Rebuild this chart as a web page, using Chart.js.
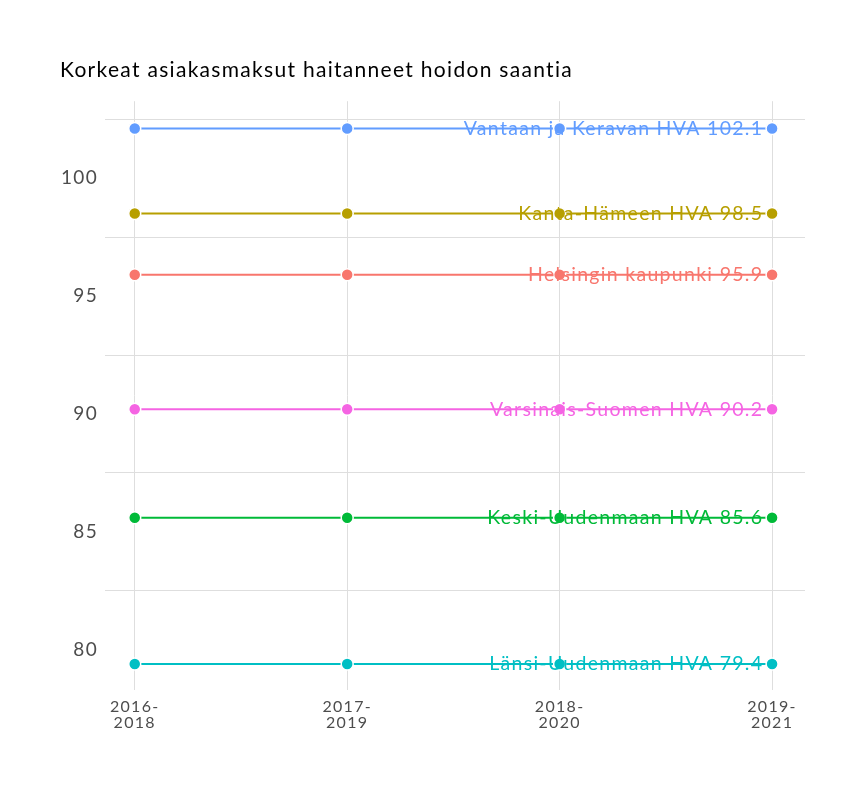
<!DOCTYPE html>
<html>
<head>
<meta charset="utf-8">
<script src="https://cdn.jsdelivr.net/npm/chart.js@4/dist/chart.umd.min.js"></script>
<style>
    html, body { margin: 0; padding: 0; background: #fff; }
    canvas { display: block; }
</style>
</head>
<body>
<canvas id="chart" width="864" height="792"></canvas>
<script>
// aikajaksot (x-akseli)
const periods = ['2016-2018', '2017-2019', '2018-2020', '2019-2021'];

// alueet ja arvot
const areaNames = [
    'Vantaan ja Keravan HVA',
    'Kanta-Hämeen HVA',
    'Helsingin kaupunki',
    'Varsinais-Suomen HVA',
    'Keski-Uudenmaan HVA',
    'Länsi-Uudenmaan HVA'
];
const vantaaValues = [102.1, 102.1, 102.1, 102.1];
const kantaHameValues = [98.5, 98.5, 98.5, 98.5];
const helsinkiValues = [95.9, 95.9, 95.9, 95.9];
const varsinaisSuomiValues = [90.2, 90.2, 90.2, 90.2];
const keskiUusimaaValues = [85.6, 85.6, 85.6, 85.6];
const lansiUusimaaValues = [79.4, 79.4, 79.4, 79.4];

// y-akselin merkinnät ja apuviivat
const yTickLabels = [80, 85, 90, 95, 100];
const yGridLines = [82.5, 87.5, 92.5, 97.5, 102.5];

const TITLE_TEXT = 'Korkeat asiakasmaksut haitanneet hoidon saantia';
const FONT = 'Lato, "DejaVu Sans", sans-serif';
const GRID_COLOR = '#dedede';
const LETTER_SPACING = '1.3px';

const seriesValues = [vantaaValues, kantaHameValues, helsinkiValues,
    varsinaisSuomiValues, keskiUusimaaValues, lansiUusimaaValues];
const seriesColors = ['#619CFF', '#B79F00', '#F8766D', '#F564E3', '#00BA38', '#00BFC4'];

const datasets = areaNames.map((name, i) => ({
    label: name,
    data: seriesValues[i].map((v, j) => ({ x: j, y: v })),
    borderColor: seriesColors[i],
    backgroundColor: seriesColors[i],
    borderWidth: 2,
    pointRadius: 6,
    pointBorderColor: '#ffffff',
    pointBorderWidth: 1.5,
    pointHoverRadius: 6,
    tension: 0
}));

// harvempi kirjainväli kuten alkuperäisessä
const spacing = {
    id: 'spacing',
    beforeLayout(chart) { chart.ctx.letterSpacing = LETTER_SPACING; },
    beforeDraw(chart) { chart.ctx.letterSpacing = LETTER_SPACING; }
};

// tekstit viivojen oikeaan päähän
const endLabels = {
    id: 'endLabels',
    afterDatasetsDraw(chart) {
        const ctx = chart.ctx;
        const xs = chart.scales.x;
        const ys = chart.scales.y;
        ctx.save();
        ctx.font = '19.5px ' + FONT;
        ctx.textAlign = 'right';
        ctx.textBaseline = 'middle';
        areaNames.forEach((name, i) => {
            const vals = seriesValues[i];
            const last = vals[vals.length - 1];
            ctx.fillStyle = seriesColors[i];
            ctx.fillText(name + ' ' + last.toFixed(1),
                xs.getPixelForValue(vals.length - 1) - 8.7,
                ys.getPixelForValue(last));
        });
        ctx.restore();
    }
};

new Chart(document.getElementById('chart').getContext('2d'), {
    type: 'line',
    data: { datasets: datasets },
    plugins: [spacing, endLabels],
    options: {
        responsive: false,
        animation: false,
        layout: { padding: { left: 60, right: 59, top: 58, bottom: 52 } },
        plugins: {
            legend: { display: false },
            tooltip: { enabled: false },
            title: {
                display: true,
                text: TITLE_TEXT,
                align: 'start',
                color: '#000',
                font: { family: FONT, size: 21, weight: 'normal' },
                padding: { top: 0, bottom: 18 }
            }
        },
        scales: {
            x: {
                type: 'linear',
                min: -0.14,
                max: 3.155,
                afterBuildTicks: s => { s.ticks = periods.map((p, i) => ({ value: i })); },
                afterFit: s => { s.height = 50; },
                border: { display: false },
                grid: { color: GRID_COLOR, drawTicks: false },
                ticks: {
                    padding: 8,
                    color: '#4d4d4d',
                    font: { family: FONT, size: 16, lineHeight: 1.05 },
                    maxRotation: 0,
                    callback: v => {
                        const p = periods[v];
                        if (!p) return '';
                        const parts = p.split('-');
                        return [parts[0] + '-', parts[1]];
                    }
                }
            },
            y: {
                min: 78.3,
                max: 103.26,
                afterBuildTicks: s => {
                    s.ticks = yTickLabels.concat(yGridLines).sort((a, b) => a - b).map(v => ({ value: v }));
                },
                afterFit: s => { s.width = 45; },
                border: { display: false },
                grid: {
                    drawTicks: false,
                    color: c => yGridLines.includes(c.tick.value) ? GRID_COLOR : 'rgba(0,0,0,0)'
                },
                ticks: {
                    padding: 7,
                    color: '#4d4d4d',
                    font: { family: FONT, size: 19 },
                    callback: v => yTickLabels.includes(v) ? String(v) : ''
                }
            }
        }
    }
});
</script>
</body>
</html>
